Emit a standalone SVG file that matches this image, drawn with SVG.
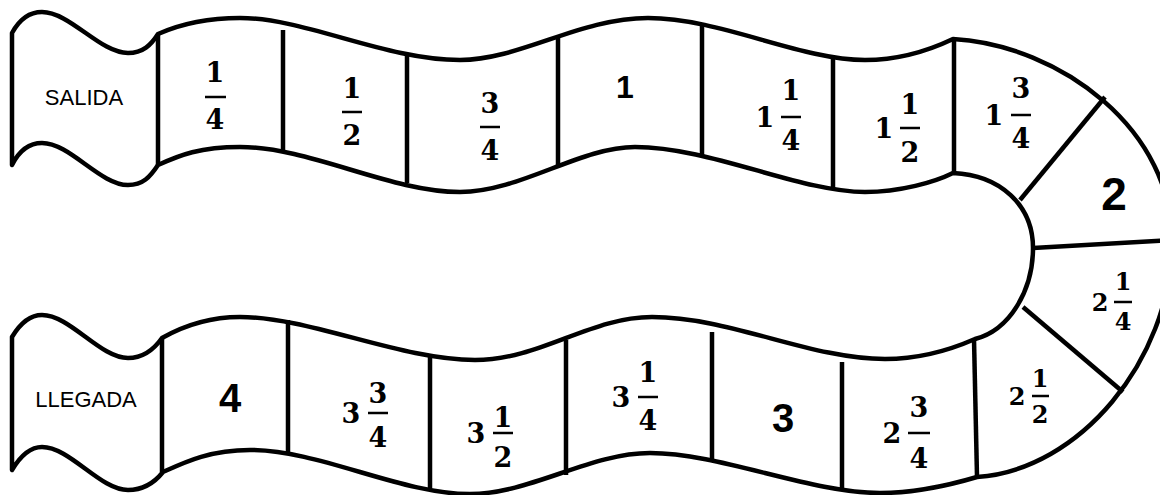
<svg xmlns="http://www.w3.org/2000/svg" width="1160" height="495" viewBox="0 0 1160 495">
<style>
.track{fill:#fff;stroke:#000;stroke-width:4.5;stroke-linejoin:round;stroke-linecap:round}
.div{stroke:#000;stroke-width:4.5;stroke-linecap:butt;fill:none}
.bar{stroke:#000;stroke-width:2.5}
.lbl{font-family:"Liberation Sans",Arial,sans-serif;font-size:22px;text-anchor:middle;fill:#000}
.big{font-family:"Liberation Sans",Arial,sans-serif;font-weight:bold;text-anchor:middle;fill:#000}
.fr{font-family:"DejaVu Serif","Liberation Serif",serif;font-weight:bold;font-size:27px;text-anchor:middle;fill:#000}
.fs{font-size:24px}
</style>
<rect width="1160" height="495" fill="#fff"/>
<g id="track">
<path class="track" d="M12,33 C18,22 28,12 42,12 C70,12 100,53 128,53 C143,53 151,45 158,34
C185,22 215,18 240,18 C305,18 385,60 460,60 C520,60 580,18 648,18 C720,18 800,60 865,60 C900,60 930,50 953,39
C1060,45 1175,130 1172,245 C1170,360 1080,470 977,477
C950,485 915,493 880,493 C810,493 720,453 650,453 C590,453 530,494 470,494 C400,494 320,450 250,450 C210,450 185,462 163,472
C155,482 145,490 128,490 C100,490 70,447 42,447 C28,447 18,460 12,470 L12,337
C18,327 28,315 42,315 C70,315 100,358 128,358 C145,358 155,348 162,338
C185,325 210,317 240,317 C310,317 400,360 475,360 C540,360 590,317 652,317 C730,317 810,359 885,359 C920,359 950,350 975,339
C1010,330 1033,290 1033,248 C1033,205 1000,175 953,173
C935,182 900,192 865,192 C800,192 710,147 635,147 C580,147 520,192 460,192 C390,192 310,147 240,147 C200,147 180,155 158,165
C150,177 143,185 128,185 C100,185 70,143 42,143 C28,143 18,153 12,165 Z"/>
</g>
<g id="connectors">
<line class="div" x1="158" y1="34" x2="158" y2="165"/>
<line class="div" x1="283" y1="30" x2="283" y2="152"/>
<line class="div" x1="407" y1="54" x2="407" y2="183"/>
<line class="div" x1="558" y1="38" x2="558" y2="167"/>
<line class="div" x1="702" y1="26" x2="702" y2="155"/>
<line class="div" x1="833" y1="57" x2="833" y2="188"/>
<line class="div" x1="954" y1="39" x2="954" y2="173"/>
<line class="div" x1="1105" y1="97" x2="1020" y2="200"/>
<line class="div" x1="1033" y1="248" x2="1172" y2="240"/>
<line class="div" x1="1023" y1="307" x2="1123" y2="392"/>
<line class="div" x1="974" y1="339" x2="977" y2="477"/>
<line class="div" x1="842" y1="362" x2="842" y2="490"/>
<line class="div" x1="712" y1="332" x2="712" y2="459"/>
<line class="div" x1="566" y1="340" x2="566" y2="475"/>
<line class="div" x1="430" y1="357" x2="430" y2="490"/>
<line class="div" x1="288" y1="320" x2="288" y2="452"/>
<line class="div" x1="162" y1="338" x2="162" y2="472"/>
</g>
<g id="salida"><text class="lbl" x="84" y="105">SALIDA</text></g>
<g id="c-1-4"><text class="fr" x="215" y="82">1</text><line class="bar" x1="205" y1="97" x2="226" y2="97"/><text class="fr" x="215" y="129">4</text></g>
<g id="c-1-2"><text class="fr" x="352" y="98">1</text><line class="bar" x1="342" y1="112" x2="362" y2="112"/><text class="fr" x="352" y="145">2</text></g>
<g id="c-3-4"><text class="fr" x="490" y="113">3</text><line class="bar" x1="480" y1="127" x2="500" y2="127"/><text class="fr" x="490" y="160">4</text></g>
<g id="c-1"><text class="big" x="625" y="98" font-size="32">1</text></g>
<g id="c-1-1-4"><text class="fr" x="765" y="127">1</text><text class="fr" x="791" y="100">1</text><line class="bar" x1="781" y1="117" x2="801" y2="117"/><text class="fr" x="791" y="150">4</text></g>
<g id="c-1-1-2"><text class="fr" x="884" y="138">1</text><text class="fr" x="910" y="114">1</text><line class="bar" x1="900" y1="128" x2="920" y2="128"/><text class="fr" x="910" y="162">2</text></g>
<g id="c-1-3-4"><text class="fr" x="994" y="125">1</text><text class="fr" x="1021" y="98">3</text><line class="bar" x1="1011" y1="115" x2="1031" y2="115"/><text class="fr" x="1021" y="148">4</text></g>
<g id="c-2"><text class="big" x="1114" y="210" font-size="46">2</text></g>
<g id="c-2-1-4"><text class="fr fs" x="1100" y="311">2</text><text class="fr fs" x="1123" y="290">1</text><line class="bar" x1="1114" y1="302" x2="1132" y2="302"/><text class="fr fs" x="1123" y="330">4</text></g>
<g id="c-2-1-2"><text class="fr fs" x="1017" y="405">2</text><text class="fr fs" x="1040" y="387">1</text><line class="bar" x1="1032" y1="396" x2="1049" y2="396"/><text class="fr fs" x="1040" y="423">2</text></g>
<g id="c-2-3-4"><text class="fr" x="892" y="443">2</text><text class="fr" x="919" y="417">3</text><line class="bar" x1="908" y1="433" x2="930" y2="433"/><text class="fr" x="919" y="468">4</text></g>
<g id="c-3"><text class="big" x="783" y="432" font-size="40">3</text></g>
<g id="c-3-1-4"><text class="fr" x="621" y="407">3</text><text class="fr" x="648" y="382">1</text><line class="bar" x1="638" y1="397" x2="658" y2="397"/><text class="fr" x="648" y="430">4</text></g>
<g id="c-3-1-2"><text class="fr" x="476" y="443">3</text><text class="fr" x="503" y="427">1</text><line class="bar" x1="493" y1="433" x2="513" y2="433"/><text class="fr" x="503" y="467">2</text></g>
<g id="c-3-3-4"><text class="fr" x="351" y="423">3</text><text class="fr" x="378" y="403">3</text><line class="bar" x1="368" y1="413" x2="388" y2="413"/><text class="fr" x="378" y="447">4</text></g>
<g id="c-4"><text class="big" x="230" y="412" font-size="40">4</text></g>
<g id="llegada"><text class="lbl" x="86" y="407">LLEGADA</text></g>
</svg>
